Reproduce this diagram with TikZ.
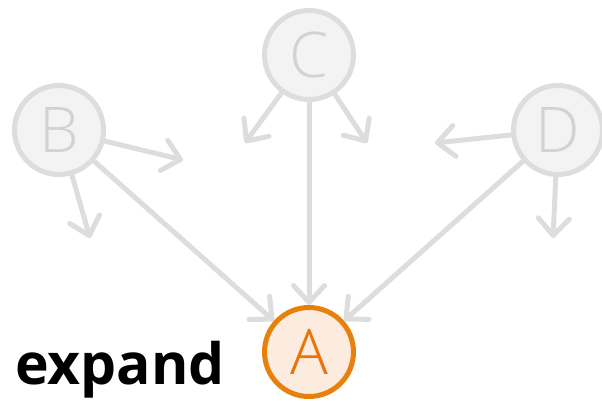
\documentclass[tikz,border=0pt]{standalone}
\usepackage{fontspec}
\usetikzlibrary{arrows.meta}
\newfontfamily\nodefont{Open Sans Light}
\newfontfamily\tagfont{Open Sans}
\definecolor{fadeline}{HTML}{DDDDDD}
\definecolor{fadefill}{HTML}{F3F3F3}
\definecolor{fadetext}{HTML}{D2D2D2}
\definecolor{hotline}{HTML}{E8800C}
\definecolor{hottext}{HTML}{E8740A}
\definecolor{hotfill}{HTML}{FCEBDF}

\begin{document}
\begin{tikzpicture}[x=1pt,y=-1pt,
 fadenode/.style={circle,draw=fadeline,fill=fadefill,line width=5pt,minimum size=89pt,inner sep=0pt,text=fadetext,font=\nodefont\fontsize{63}{63}\selectfont},
 hotnode/.style={fadenode,draw=hotline,fill=hotfill,text=hottext},
 fadearrow/.style={-{Straight Barb[length=17pt,width=31pt,round]},line width=5pt,draw=fadeline,line cap=round}
]
\useasboundingbox (0,0) rectangle (602,401);
\node[fadenode] (B) at (59,130) {B};
\node[fadenode] (C) at (309,55) {C};
\node[fadenode] (D) at (558,130) {D};
\node[hotnode] (A) at (309,352) {A};
\node[font=\tagfont\bfseries\fontsize{57}{57}\selectfont,anchor=base west,inner sep=0pt] (tag) at (15,384) {expand};
% loose ends of the short arrows
\coordinate (b1) at (183,160);
\coordinate (b2) at (90,238);
\coordinate (c1) at (245,143);
\coordinate (c2) at (367,143);
\coordinate (d1) at (435,143);
\coordinate (d2) at (553,238);
\draw[fadearrow] (B)--(b1);
\draw[fadearrow] (B)--(b2);
\draw[fadearrow] (C)--(c1);
\draw[fadearrow] (C)--(c2);
\draw[fadearrow] (D)--(d1);
\draw[fadearrow] (D)--(d2);
\draw[fadearrow] (B)--(A);
\draw[fadearrow] (C)--(A);
\draw[fadearrow] (D)--(A);
\end{tikzpicture}
\end{document}
